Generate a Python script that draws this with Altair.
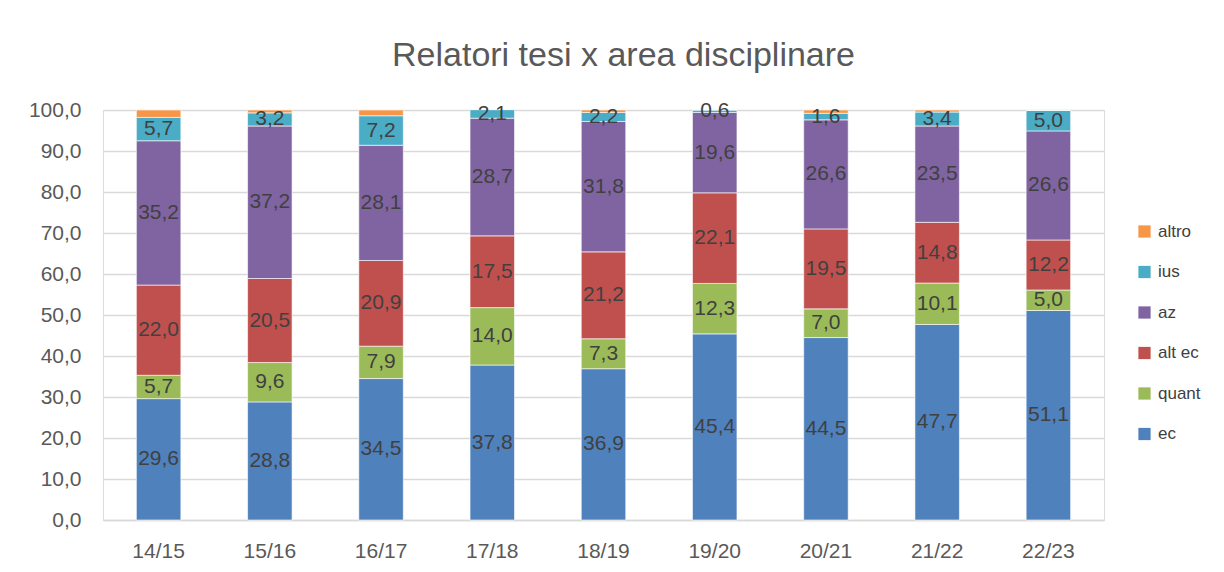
import altair as alt
import pandas as pd

years = ["14/15", "15/16", "16/17", "17/18", "18/19", "19/20", "20/21", "21/22", "22/23"]
series = ["ec", "quant", "alt ec", "az", "ius", "altro"]
colors = ["#4F81BD", "#9BBB59", "#C0504D", "#8064A2", "#4BACC6", "#F79646"]

ec = [29.6, 28.8, 34.5, 37.8, 36.9, 45.4, 44.5, 47.7, 51.1]
quant = [5.7, 9.6, 7.9, 14.0, 7.3, 12.3, 7.0, 10.1, 5.0]
alt_ec = [22.0, 20.5, 20.9, 17.5, 21.2, 22.1, 19.5, 14.8, 12.2]
az = [35.2, 37.2, 28.1, 28.7, 31.8, 19.6, 26.6, 23.5, 26.6]
ius = [5.7, 3.2, 7.2, 2.1, 2.2, 0.6, 1.6, 3.4, 5.0]
altro = [1.8, 0.7, 1.4, 0.0, 0.6, 0.0, 0.8, 0.5, 0.0]

vals = [ec, quant, alt_ec, az, ius, altro]
rows = []
for si, (s, v) in enumerate(zip(series, vals)):
    for y, x in zip(years, v):
        rows.append({"year": y, "serie": s, "idx": si, "value": x})
df = pd.DataFrame(rows)

FONT = "Liberation Sans"

base = alt.Chart(df).transform_stack(
    stack="value", groupby=["year"], as_=["y0", "y1"], sort=[alt.SortField("idx")]
).transform_calculate(
    mid="(datum.y0 + datum.y1) / 2",
    label="replace(format(datum.value, '.1f'), '.', ',')",
)

xenc = alt.X("year:N", sort=years, title=None,
             scale=alt.Scale(paddingInner=0.6, paddingOuter=0.3),
             axis=alt.Axis(labelAngle=0, labelFont=FONT, labelFontSize=21,
                           labelColor="#595959", labelPadding=20, ticks=False,
                           domainColor="#D9D9D9", domainWidth=1.5))

bars = base.mark_bar(stroke="white", strokeWidth=0.6).encode(
    x=xenc,
    y=alt.Y("y0:Q", title=None,
            scale=alt.Scale(domain=[0, 100], nice=False),
            axis=alt.Axis(values=list(range(0, 101, 10)),
                          labelExpr="replace(format(datum.value, '.1f'), '.', ',')",
                          labelFont=FONT, labelFontSize=21, labelColor="#595959",
                          labelPadding=22, ticks=False, domain=False,
                          gridColor="#D9D9D9", gridWidth=1.5)),
    y2="y1:Q",
    color=alt.Color("serie:N",
                    scale=alt.Scale(domain=series[::-1], range=colors[::-1]),
                    legend=alt.Legend(title=None, orient="none", legendX=1033, legendY=113,
                                      symbolType="square", symbolSize=150,
                                      symbolStrokeWidth=0,
                                      labelFont=FONT, labelFontSize=17,
                                      labelColor="#404040", rowPadding=22.5,
                                      labelOffset=5)),
)

texts = base.transform_filter("datum.serie != 'altro'").mark_text(
    font=FONT, fontSize=21, color="#404040", baseline="middle"
).encode(
    x=alt.X("year:N", sort=years),
    y=alt.Y("mid:Q"),
    text="label:N",
)

chart = alt.layer(bars, texts).properties(
    width=1001, height=410,
    title=alt.TitleParams("Relatori tesi x area disciplinare", font=FONT, fontSize=34,
                          fontWeight="normal", color="#595959", offset=26, dx=20,
                          anchor="middle"),
    padding={"left": 95, "top": 102, "right": 112, "bottom": 45},
    autosize=alt.AutoSizeParams(type="none"),
).configure_view(stroke=None).configure(background="white")

chart.save("out.html", embed_options={"renderer": "svg", "actions": False})
